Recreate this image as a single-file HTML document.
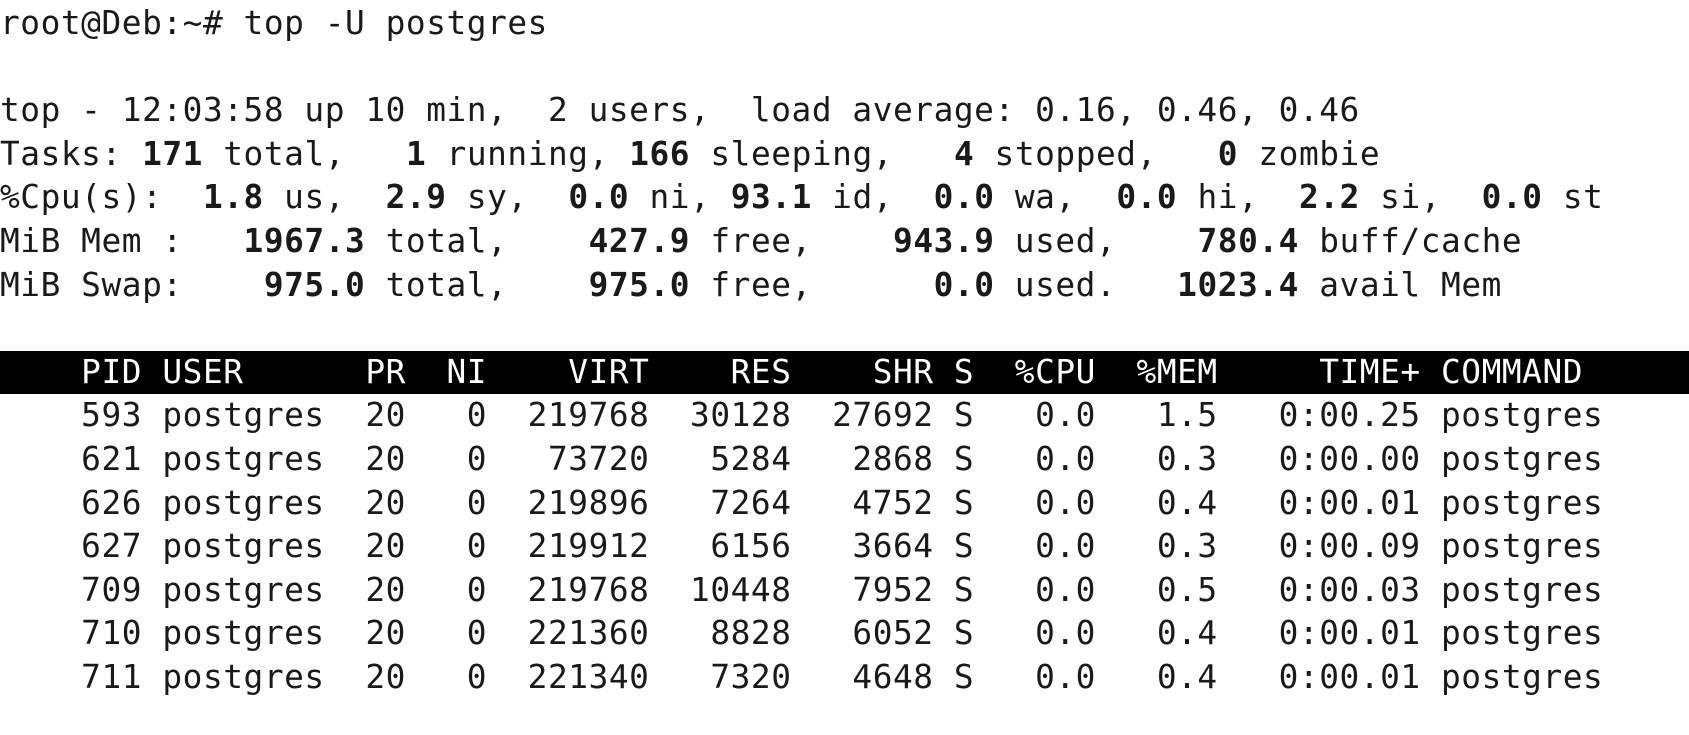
<!DOCTYPE html>
<html><head><meta charset="utf-8"><style>
html,body{margin:0;padding:0;background:#fff;width:1689px;height:735px;overflow:hidden}
pre{margin:0;padding:2px 0 0 0;font-family:"DejaVu Sans Mono","Liberation Mono",monospace;font-size:32.8px;letter-spacing:0.55px;line-height:43.6px;color:#1a1a1a;white-space:pre}
.bar{display:block;background:#000;color:#fff;width:1689px}
b{font-weight:bold}
</style></head><body>
<pre><span>root@Deb:~# top -U postgres</span>

<span>top - 12:03:58 up 10 min,  2 users,  load average: 0.16, 0.46, 0.46</span>
<span>Tasks: <b>171</b> total,   <b>1</b> running, <b>166</b> sleeping,   <b>4</b> stopped,   <b>0</b> zombie</span>
<span>%Cpu(s):  <b>1.8</b> us,  <b>2.9</b> sy,  <b>0.0</b> ni, <b>93.1</b> id,  <b>0.0</b> wa,  <b>0.0</b> hi,  <b>2.2</b> si,  <b>0.0</b> st</span>
<span>MiB Mem :   <b>1967.3</b> total,    <b>427.9</b> free,    <b>943.9</b> used,    <b>780.4</b> buff/cache</span>
<span>MiB Swap:    <b>975.0</b> total,    <b>975.0</b> free,      <b>0.0</b> used.   <b>1023.4</b> avail Mem</span>

<span class="bar">    PID USER      PR  NI    VIRT    RES    SHR S  %CPU  %MEM     TIME+ COMMAND</span><span>    593 postgres  20   0  219768  30128  27692 S   0.0   1.5   0:00.25 postgres</span>
<span>    621 postgres  20   0   73720   5284   2868 S   0.0   0.3   0:00.00 postgres</span>
<span>    626 postgres  20   0  219896   7264   4752 S   0.0   0.4   0:00.01 postgres</span>
<span>    627 postgres  20   0  219912   6156   3664 S   0.0   0.3   0:00.09 postgres</span>
<span>    709 postgres  20   0  219768  10448   7952 S   0.0   0.5   0:00.03 postgres</span>
<span>    710 postgres  20   0  221360   8828   6052 S   0.0   0.4   0:00.01 postgres</span>
<span>    711 postgres  20   0  221340   7320   4648 S   0.0   0.4   0:00.01 postgres</span>
</pre>
</body></html>
